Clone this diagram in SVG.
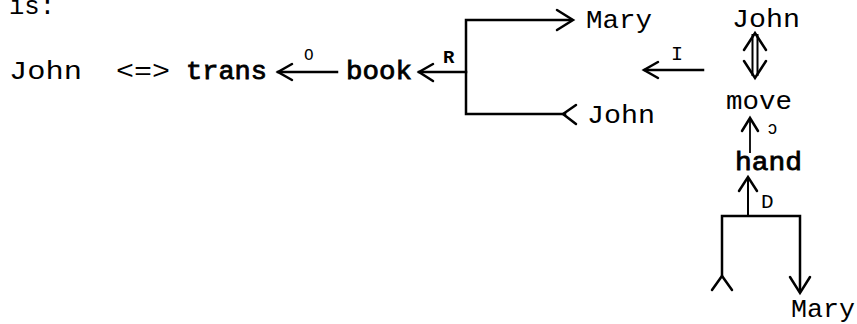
<svg xmlns="http://www.w3.org/2000/svg" width="857" height="324" viewBox="0 0 857 324">
<style>
.t{font-family:"Liberation Mono","Courier New",monospace;font-size:26px;fill:#000}
.b{font-family:"Liberation Mono","Courier New",monospace;font-size:26px;fill:#000;stroke:#000;stroke-width:0.8}
.s{font-family:"Liberation Mono","Courier New",monospace;fill:#000}
.ln{stroke:#000;stroke-width:2.5;fill:none;stroke-linecap:square}
.hd{stroke:#000;stroke-width:2.5;fill:none;stroke-linejoin:miter;stroke-linecap:round}
</style>
<rect width="857" height="324" fill="#fff"/>
<g id="intro"><text class="t" x="9" y="14" textLength="46" lengthAdjust="spacingAndGlyphs">is:</text></g>
<g id="john1"><text class="t" x="9" y="79" textLength="73" lengthAdjust="spacingAndGlyphs">John</text></g>
<g id="link"><text class="t" x="116" y="79" textLength="54" lengthAdjust="spacingAndGlyphs">&lt;=&gt;</text></g>
<g id="trans"><text class="b" x="186" y="79" textLength="81" lengthAdjust="spacingAndGlyphs">trans</text></g>
<g id="book"><text class="b" x="346" y="79" textLength="66" lengthAdjust="spacingAndGlyphs">book</text></g>
<g id="mary1"><text class="t" x="586" y="28" textLength="66" lengthAdjust="spacingAndGlyphs">Mary</text></g>
<g id="john2"><text class="t" x="587" y="123" textLength="68" lengthAdjust="spacingAndGlyphs">John</text></g>
<g id="john3"><text class="t" x="732" y="27" textLength="68" lengthAdjust="spacingAndGlyphs">John</text></g>
<g id="move"><text class="t" x="726" y="109" textLength="66" lengthAdjust="spacingAndGlyphs">move</text></g>
<g id="hand"><text class="b" x="735" y="170" textLength="67" lengthAdjust="spacingAndGlyphs">hand</text></g>
<g id="mary2"><text class="t" x="791" y="317" textLength="64" lengthAdjust="spacingAndGlyphs">Mary</text></g>
<g id="connectors">
  <!-- trans <- book, O -->
  <line class="ln" x1="278" y1="72" x2="337" y2="72"/>
  <polyline class="hd" points="292,64 278,72 292,80"/>
  <text class="s" x="304" y="60" font-size="16">O</text>
  <!-- book <- R bracket -->
  <line class="ln" x1="419" y1="72" x2="466" y2="72"/>
  <polyline class="hd" points="433,64 419,72 433,81"/>
  <text class="s" x="443" y="63" font-size="19" font-weight="bold">R</text>
  <polyline class="ln" points="570,20 466,20 466,114 565,114"/>
  <polyline class="hd" points="557,10 573,20 557,30"/>
  <polyline class="hd" points="576,105 563,114 576,124"/>
  <!-- I arrow -->
  <line class="ln" x1="645" y1="70" x2="703" y2="70"/>
  <polyline class="hd" points="658,62 644,70 658,78"/>
  <text class="s" x="671" y="60" font-size="20">I</text>
  <!-- double arrow John <=> move -->
  <line x1="752.5" y1="34" x2="752.5" y2="76" stroke="#000" stroke-width="2"/>
  <line x1="757.5" y1="34" x2="757.5" y2="76" stroke="#000" stroke-width="2"/>
  <polyline class="hd" points="744,50 755,33 766,50"/>
  <polyline class="hd" points="744,61 755,78 766,61"/>
  <!-- move <- hand, ↄ -->
  <line x1="750" y1="120" x2="750" y2="153" stroke="#000" stroke-width="1.8"/>
  <polyline class="hd" stroke-width="2" points="742,131 750,118 758,131"/>
  <text class="s" x="767" y="134" font-size="18">ↄ</text>
  <!-- hand <- D -->
  <line x1="748" y1="179" x2="748" y2="216" stroke="#000" stroke-width="2"/>
  <polyline class="hd" points="739,191 748,177 757,191"/>
  <text class="s" x="761" y="208" font-size="21">D</text>
  <polyline class="ln" points="722,276 722,216 800,216 800,291"/>
  <polyline class="hd" points="712,290 722,276 732,290"/>
  <polyline class="hd" points="790,277 800,293 810,277"/>
</g>
</svg>
